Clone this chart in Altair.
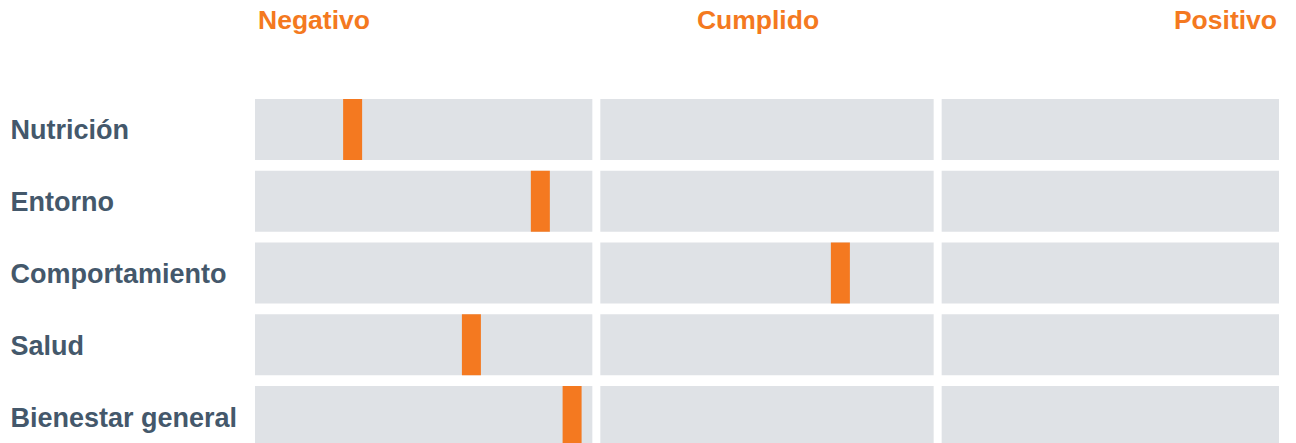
import altair as alt
import pandas as pd

# ---- data ----
categories = ["Nutrición", "Entorno", "Comportamiento", "Salud", "Bienestar general"]
scores = [0.286, 0.836, 1.715, 0.634, 0.929]          # marker position, 0-3 scale
zones = ["Negativo", "Cumplido", "Positivo"]
zone_start = [0, 1, 2]
zone_end = [1, 2, 3]

ORANGE = "#f47920"
GRAY = "#dfe2e6"
LABEL = "#44586b"
FONT = "Liberation Sans, Arial, sans-serif"

bg_df = pd.DataFrame(
    [{"cat": c, "zone": z, "start": s, "end": e}
     for c in categories for z, s, e in zip(zones, zone_start, zone_end)]
)
sep_df = pd.DataFrame({"pos": zone_start[1:]})
mk_df = pd.DataFrame({"cat": categories, "score": scores})

xscale = alt.Scale(domain=[zone_start[0], zone_end[-1]], nice=False, zero=False)
yenc = alt.Y(
    "cat:N",
    sort=categories,
    title=None,
    scale=alt.Scale(paddingInner=0.15, paddingOuter=0),
    axis=alt.Axis(
        domain=False, ticks=False, tickSize=0, labelAlign="left",
        labelPadding=245, labelFont=FONT, labelFontSize=27, labelFontWeight="bold",
        labelColor=LABEL, labelLimit=400, labelBaseline="middle", labelOffset=2,
    ),
)

bg = alt.Chart(bg_df).mark_rect(color=GRAY).encode(
    x=alt.X("start:Q", scale=xscale, axis=None), x2="end:Q", y=yenc
)
sep = alt.Chart(sep_df).mark_rule(color="white", strokeWidth=8).encode(
    x=alt.X("pos:Q", scale=xscale, axis=None)
)
mk = alt.Chart(mk_df).mark_tick(color=ORANGE, thickness=19, size=61, opacity=1).encode(
    x=alt.X("score:Q", scale=xscale, axis=None), y=yenc
)

def header(i, align, dx):
    pos = [zone_start[0], (zone_start[1] + zone_end[1]) / 2, zone_end[-1]][i]
    d = pd.DataFrame({"label": [zones[i]], "pos": [pos]})
    return alt.Chart(d).mark_text(
        align=align, baseline="alphabetic", dx=dx, font=FONT, fontSize=26.5,
        fontWeight="bold", color=ORANGE,
    ).encode(
        x=alt.X("pos:Q", scale=xscale, axis=None), y=alt.value(-70), text="label:N"
    )

chart = alt.layer(
    bg, sep, mk, header(0, "left", 3), header(1, "center", -9), header(2, "right", -2)
).properties(
    width=1024, height=348,
    autosize=alt.AutoSizeParams(type="none"),
    padding={"left": 247, "top": 91, "right": 0, "bottom": 0},
).configure_view(stroke=None)

chart.save("out.html", embed_options={"renderer": "svg", "actions": False})
